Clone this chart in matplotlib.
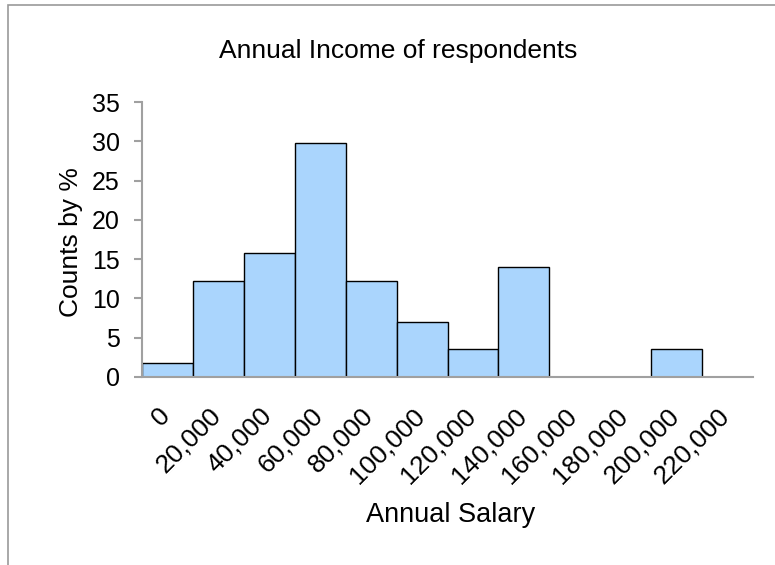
import matplotlib.pyplot as plt
import matplotlib.transforms as mtransforms
import numpy as np
from matplotlib.patches import Rectangle

plt.rcParams['font.family'] = ['Liberation Sans', 'DejaVu Sans']

# salary bins and share of respondents in %
salary_bins = ['0', '20,000', '40,000', '60,000', '80,000', '100,000',
               '120,000', '140,000', '160,000', '180,000', '200,000', '220,000']
counts_pct = [1.75, 12.28, 15.79, 29.82, 12.28, 7.02, 3.51, 14.04, 0, 0, 3.51, 0]
y_ticks = [0, 5, 10, 15, 20, 25, 30, 35]

fig = plt.figure(figsize=(7.75, 5.65), dpi=100)
ax = fig.add_axes([142/775, 1-377/565, (753-142)/775, (377-102)/565])

# chart frame (cut off at right and bottom)
fig.patches.append(Rectangle((8/775, -0.1), 1.2, 1-5/565+0.1, transform=fig.transFigure,
                             fill=False, edgecolor='#999999', linewidth=1.2))

x = np.arange(len(salary_bins))
ax.bar(x, counts_pct, width=1.0, color='#aad5fd', edgecolor='black', linewidth=1.0)

ax.set_xlim(-0.5, len(salary_bins) - 0.5)
ax.set_ylim(0, 35)
ax.set_yticks(y_ticks)
ax.set_xticks(x)

for s in ['top', 'right']:
    ax.spines[s].set_visible(False)
for s in ['left', 'bottom']:
    ax.spines[s].set_color('#a0a0a0')
    ax.spines[s].set_linewidth(1.5)

ax.tick_params(axis='y', length=6, width=1.5, color='#a0a0a0', labelsize=18, pad=10)
ax.tick_params(axis='x', length=0, pad=19)

# rotated salary labels, nudged left a bit (after tick_params, which resets transforms)
ax.set_xticklabels(salary_bins, rotation=45, ha='right', va='top',
                   rotation_mode='anchor', fontsize=19)
shift = mtransforms.ScaledTranslation(-10/100, 0, fig.dpi_scale_trans)
for lbl in ax.get_xticklabels():
    lbl.set_transform(lbl.get_transform() + shift)

fig.text(398/775, 1-58/565, 'Annual Income of respondents', fontsize=19,
         ha='center', va='baseline')
ax.set_ylabel('Counts by %', fontsize=19)
ax.yaxis.set_label_coords(-0.097, 0.49)
ax.set_xlabel('Annual Salary', fontsize=19.5)
ax.xaxis.set_label_coords(0.505, -0.455)

fig.savefig('out.png', dpi=100)
